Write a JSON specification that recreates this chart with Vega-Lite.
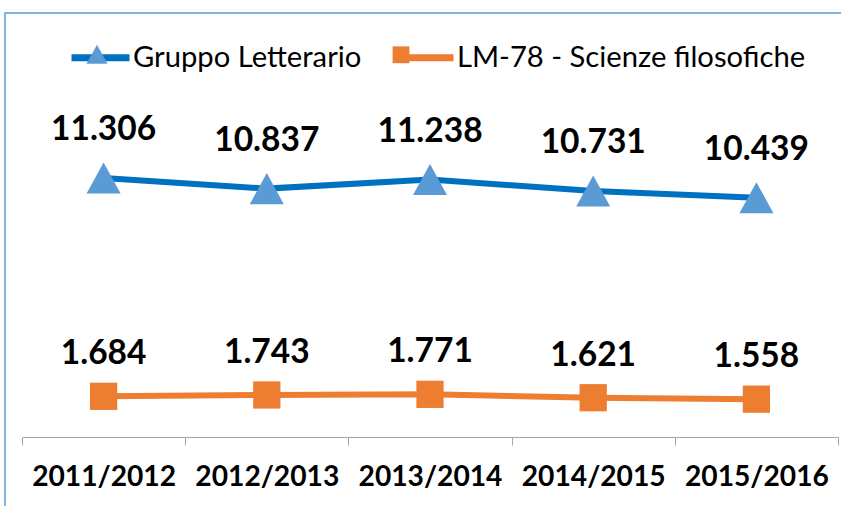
{
  "$schema": "https://vega.github.io/schema/vega-lite/v6.json",
  "autosize": "none",
  "width": 845,
  "height": 510,
  "padding": {"left": 5, "top": 13, "right": 0, "bottom": 0},
  "background": "white",
  "data": {
    "values": [
      {"anno": "2011/2012", "serie": "Gruppo Letterario", "valore": 11306},
      {"anno": "2012/2013", "serie": "Gruppo Letterario", "valore": 10837},
      {"anno": "2013/2014", "serie": "Gruppo Letterario", "valore": 11238},
      {"anno": "2014/2015", "serie": "Gruppo Letterario", "valore": 10731},
      {"anno": "2015/2016", "serie": "Gruppo Letterario", "valore": 10439},
      {"anno": "2011/2012", "serie": "LM-78 - Scienze filosofiche", "valore": 1684},
      {"anno": "2012/2013", "serie": "LM-78 - Scienze filosofiche", "valore": 1743},
      {"anno": "2013/2014", "serie": "LM-78 - Scienze filosofiche", "valore": 1771},
      {"anno": "2014/2015", "serie": "LM-78 - Scienze filosofiche", "valore": 1621},
      {"anno": "2015/2016", "serie": "LM-78 - Scienze filosofiche", "valore": 1558}
    ]
  },
  "encoding": {
    "x": {
      "field": "anno",
      "type": "nominal",
      "sort": null,
      "scale": {"type": "band", "range": [17, 833], "paddingInner": 0, "paddingOuter": 0},
      "axis": {
        "title": null,
        "orient": "bottom",
        "offset": -86,
        "tickBand": "extent",
        "domainColor": "#A6A6A6",
        "domainWidth": 1,
        "tickColor": "#A6A6A6",
        "tickWidth": 1,
        "tickSize": 8,
        "labelFont": "Lato",
        "labelFontWeight": "bold",
        "labelFontSize": 28.2,
        "labelColor": "black",
        "labelPadding": 18,
        "labelAngle": 0,
        "labelOverlap": false,
        "grid": false
      }
    },
    "y": {
      "field": "valore",
      "type": "quantitative",
      "scale": {"domain": [-3900, 18577], "nice": false, "zero": false},
      "axis": null
    }
  },
  "layer": [
    {
      "mark": {"type": "line", "strokeWidth": 6, "strokeCap": "butt"},
      "encoding": {
        "stroke": {
          "field": "serie",
          "type": "nominal",
          "scale": {"range": ["#0070C0", "#ED7D31"]},
          "legend": {
            "orient": "none",
            "legendX": 63,
            "legendY": 12,
            "direction": "horizontal",
            "title": null,
            "symbolType": "stroke",
            "symbolSize": 3364,
            "symbolStrokeWidth": 7,
            "labelFont": "Lato",
            "labelFontSize": 29.2,
            "labelColor": "black",
            "labelOffset": 0,
            "labelLimit": 0,
            "columnPadding": 19,
            "padding": 0,
            "zindex": 0
          }
        }
      }
    },
    {
      "mark": {"type": "point", "filled": true, "size": 8836, "opacity": 1, "strokeWidth": 0},
      "encoding": {
        "fill": {
          "field": "serie",
          "type": "nominal",
          "scale": {"domain": ["Gruppo Letterario", "LM-78 - Scienze filosofiche"], "range": ["#5B9BD5", "#ED7D31"]},
          "legend": {
            "orient": "none",
            "legendX": 63,
            "legendY": 12,
            "direction": "horizontal",
            "title": null,
            "symbolSize": 3364,
            "symbolStrokeWidth": 0,
            "symbolOpacity": 1,
            "labelExpr": "''",
            "labelOffset": 0,
            "labelLimit": 0,
            "columnPadding": 246,
            "padding": 0,
            "zindex": 1
          }
        },
        "shape": {
          "field": "serie",
          "type": "nominal",
          "scale": {
            "domain": ["Gruppo Letterario", "LM-78 - Scienze filosofiche"],
            "range": ["M0,-0.33L0.362,0.33L-0.362,0.33Z", "M-0.29,-0.29L0.29,-0.29L0.29,0.29L-0.29,0.29Z"]
          },
          "legend": {
            "orient": "none",
            "legendX": 63,
            "legendY": 12,
            "direction": "horizontal",
            "title": null,
            "symbolSize": 3364,
            "symbolStrokeWidth": 0,
            "symbolOpacity": 1,
            "labelExpr": "''",
            "labelOffset": 0,
            "labelLimit": 0,
            "columnPadding": 246,
            "padding": 0,
            "zindex": 1
          }
        }
      }
    },
    {
      "transform": [{"filter": "datum.serie === 'Gruppo Letterario'"}],
      "mark": {"type": "text", "font": "Lato", "fontWeight": "bold", "fontSize": 33.5, "dy": -48, "baseline": "middle", "color": "black"},
      "encoding": {"text": {"field": "valore", "type": "quantitative", "format": ",d"}}
    },
    {
      "transform": [{"filter": "datum.serie !== 'Gruppo Letterario'"}],
      "mark": {"type": "text", "font": "Lato", "fontWeight": "bold", "fontSize": 33.5, "dy": -42, "baseline": "middle", "color": "black"},
      "encoding": {"text": {"field": "valore", "type": "quantitative", "format": ",d"}}
    }
  ],
  "config": {
    "locale": {"number": {"decimal": ",", "thousands": ".", "grouping": [3], "currency": ["€", ""]}},
    "view": {"stroke": "#5B9BD5", "strokeWidth": 1.5},
    "axis": {"grid": false}
  }
}
